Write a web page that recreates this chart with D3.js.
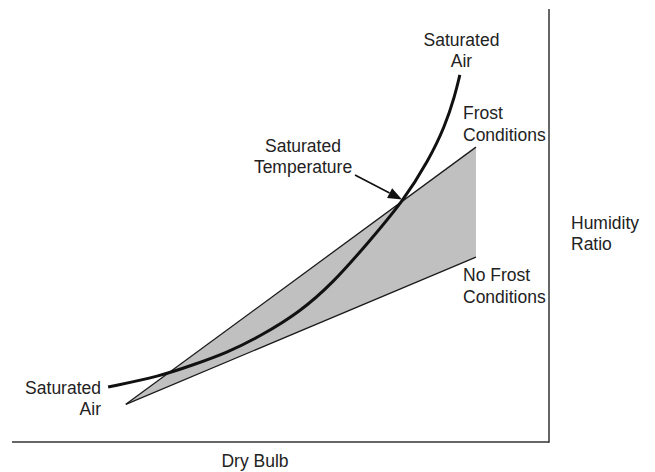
<!DOCTYPE html>
<html>
<head>
<meta charset="utf-8">
<script src="https://cdn.jsdelivr.net/npm/d3@7"></script>
<style>
  html, body { margin: 0; padding: 0; background: #fff; }
  svg { display: block; }
  text { font-family: "Liberation Sans", Arial, sans-serif; font-size: 17.5px; fill: #222; }
</style>
</head>
<body>
<svg id="chart" width="655" height="472"></svg>
<script>
// Saturation curve (dry bulb vs humidity ratio, relative units)
const satDryBulb  = [17.9, 27.6, 33.7, 40.0, 46.2, 53.6, 59.8, 66.1, 73.0, 77.5, 80.6, 82.5, 83.4];
const satHumidity = [12.7, 15.2, 17.8, 20.6, 24.4, 30.0, 36.8, 45.7, 55.9, 64.9, 72.8, 80.1, 84.8];

// Frost / no-frost boundary lines fanning out from a common point
const wedgeApex     = [21.2, 8.7];
const frostEnd      = [86.4, 68.1];
const noFrostEnd    = [86.4, 42.7];

// Annotation text
const labelSatLow    = ["Saturated", "Air"];
const labelSatHigh   = ["Saturated", "Air"];
const labelFrost     = ["Frost", "Conditions"];
const labelNoFrost   = ["No Frost", "Conditions"];
const labelSatTemp   = ["Saturated", "Temperature"];
const labelYAxis     = ["Humidity", "Ratio"];
const labelXAxis     = "Dry Bulb";

const svg = d3.select("#chart");
const plot = { left: 12, right: 549, top: 9, bottom: 442 };

const x = d3.scaleLinear().domain([0, 100]).range([plot.left, plot.right]);
const y = d3.scaleLinear().domain([0, 100]).range([plot.bottom, plot.top]);

// Shaded wedge between the two boundary lines
const wedge = [wedgeApex, frostEnd, noFrostEnd];
svg.append("path")
  .attr("d", d3.line().x(d => x(d[0])).y(d => y(d[1]))(wedge) + "Z")
  .attr("fill", "#c0c0c0")
  .attr("stroke", "none");

// Boundary edges
[frostEnd, noFrostEnd].forEach(end => {
  svg.append("line")
    .attr("x1", x(wedgeApex[0])).attr("y1", y(wedgeApex[1]))
    .attr("x2", x(end[0])).attr("y2", y(end[1]))
    .attr("stroke", "#1a1a1a").attr("stroke-width", 1.3);
});

// Saturation curve (smoothed through the sampled points)
const satPoints = satDryBulb.map((d, i) => [d, satHumidity[i]]);
svg.append("path")
  .datum(satPoints)
  .attr("d", d3.line().x(d => x(d[0])).y(d => y(d[1])).curve(d3.curveBasis))
  .attr("fill", "none")
  .attr("stroke", "#111")
  .attr("stroke-width", 3)
  .attr("stroke-linecap", "butt");

// Axes: bottom and right edges only
const axisG = svg.append("g");
axisG.append("line")
  .attr("x1", plot.left).attr("y1", plot.bottom).attr("x2", plot.right).attr("y2", plot.bottom)
  .attr("stroke", "#333").attr("stroke-width", 1.5);
axisG.append("line")
  .attr("x1", plot.right).attr("y1", plot.top).attr("x2", plot.right).attr("y2", plot.bottom + 0.75)
  .attr("stroke", "#333").attr("stroke-width", 1.5);

// Arrow pointing at the saturation temperature
const tip = [402, 199.5], tail = [355, 175];
const ang = Math.atan2(tip[1] - tail[1], tip[0] - tail[0]);
const headLen = 14, headHalf = 5.5;
const base = [tip[0] - headLen * Math.cos(ang), tip[1] - headLen * Math.sin(ang)];
svg.append("line")
  .attr("x1", tail[0]).attr("y1", tail[1]).attr("x2", base[0]).attr("y2", base[1])
  .attr("stroke", "#111").attr("stroke-width", 1.6);
svg.append("path")
  .attr("d", d3.line()([
    tip,
    [base[0] - headHalf * Math.sin(ang), base[1] + headHalf * Math.cos(ang)],
    [base[0] + headHalf * Math.sin(ang), base[1] - headHalf * Math.cos(ang)]
  ]) + "Z")
  .attr("fill", "#111");

// Multi-line labels
function label(lines, px, py, anchor, lh = 21.6) {
  const t = svg.append("text").attr("text-anchor", anchor);
  lines.forEach((s, i) => {
    t.append("tspan").attr("x", px).attr("y", py + i * lh).text(s);
  });
}
label(labelSatLow, 101, 393.5, "end");
label(labelSatHigh, 461.5, 45.5, "middle");
label(labelFrost, 463, 119, "start");
label(labelSatTemp, 303, 151.7, "middle");
label(labelNoFrost, 463, 281, "start");
label(labelYAxis, 571, 228.5, "start");
label([labelXAxis], 255, 466.5, "middle");
</script>
</body>
</html>
